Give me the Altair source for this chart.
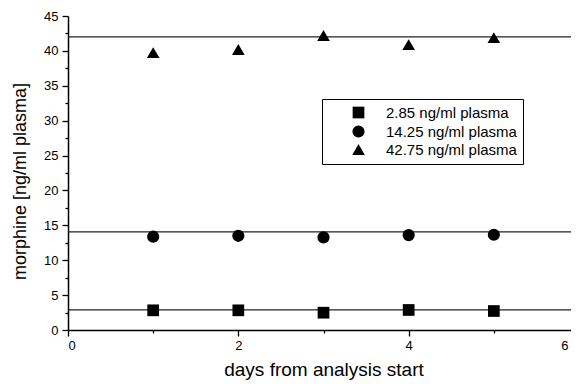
import altair as alt
import pandas as pd

days = [1, 2, 3, 4, 5]
series_labels = ["2.85 ng/ml plasma", "14.25 ng/ml plasma", "42.75 ng/ml plasma"]
morphine_low = [2.82, 2.82, 2.48, 2.87, 2.72]
morphine_mid = [13.37, 13.50, 13.28, 13.60, 13.65]
morphine_high = [39.75, 40.20, 42.20, 40.90, 41.90]
mean_levels = [2.87, 14.05, 42.0]

x_ticks = [0, 1, 2, 3, 4, 5, 6]
y_ticks = [i * 2.5 for i in range(19)]

rows = []
for label, vals in zip(series_labels, [morphine_low, morphine_mid, morphine_high]):
    for d, v in zip(days, vals):
        rows.append({"day": d, "morphine": v, "series": label})
df = pd.DataFrame(rows)
lines_df = pd.DataFrame({"morphine": mean_levels})

FONT = "Liberation Sans"

x_enc = alt.X(
    "day:Q",
    scale=alt.Scale(domain=[0, 6], nice=False, zero=False),
    title="days from analysis start",
    axis=alt.Axis(
        values=x_ticks,
        labelExpr="datum.value % 2 === 0 ? datum.label : ''",
        tickSize={"condition": {"test": "datum.value % 2 === 0", "value": 6}, "value": 3},
        labelOffset={"condition": {"test": "datum.value === 6", "value": -11}, "value": 0},
        labelPadding=3,
        titlePadding=8,
        labelFontSize=13,
        titleFontSize=19,
        labelOverlap=False,
    ),
)
y_enc = alt.Y(
    "morphine:Q",
    scale=alt.Scale(domain=[0, 45], nice=False),
    title="morphine [ng/ml plasma]",
    axis=alt.Axis(
        values=y_ticks,
        labelExpr="datum.value % 5 === 0 ? datum.label : ''",
        tickSize={"condition": {"test": "datum.value % 5 === 0", "value": 6}, "value": 3},
        labelPadding=4,
        titlePadding=14,
        titleY=165,
        labelFontSize=13,
        titleFontSize=18,
        labelOverlap=False,
    ),
)

rules = alt.Chart(lines_df).mark_rule(color="#222222", strokeWidth=1.2).encode(y=y_enc)

points = alt.Chart(df).mark_point(filled=True, opacity=1, color="black").encode(
    x=x_enc,
    y=y_enc,
    shape=alt.Shape(
        "series:N",
        sort=series_labels,
        scale=alt.Scale(domain=series_labels, range=["square", "circle", "triangle-up"]),
        legend=alt.Legend(
            title=None,
            orient="none",
            legendX=254,
            legendY=83,
            strokeColor="black",
            fillColor="white",
            padding=6,
            symbolOffset=23,
            labelOffset=20,
            rowPadding=0,
            labelFontSize=15,
            labelFont=FONT,
            labelColor="black",
            symbolFillColor="black",
            symbolStrokeColor="black",
            symbolOpacity=1,
            labelExpr="datum.label + '\u00a0\u00a0\u00a0'",
        ),
    ),
    size=alt.Size(
        "series:N",
        sort=series_labels,
        scale=alt.Scale(domain=series_labels, range=[137, 160, 200]),
    ),
)

chart = (
    alt.layer(rules, points)
    .properties(
        width=511,
        height=314,
        autosize=alt.AutoSizeParams(type="none"),
        padding={"left": 60, "top": 8, "right": -8, "bottom": 52},
    )
    .configure_view(stroke=None)
    .configure_axis(
        grid=False,
        domainColor="black",
        domainWidth=1.5,
        tickColor="black",
        tickWidth=1.3,
        labelColor="black",
        titleColor="black",
        labelFont=FONT,
        titleFont=FONT,
        titleFontWeight="normal",
    )
)

chart.save("out.html", embed_options={"renderer": "svg", "actions": False})
